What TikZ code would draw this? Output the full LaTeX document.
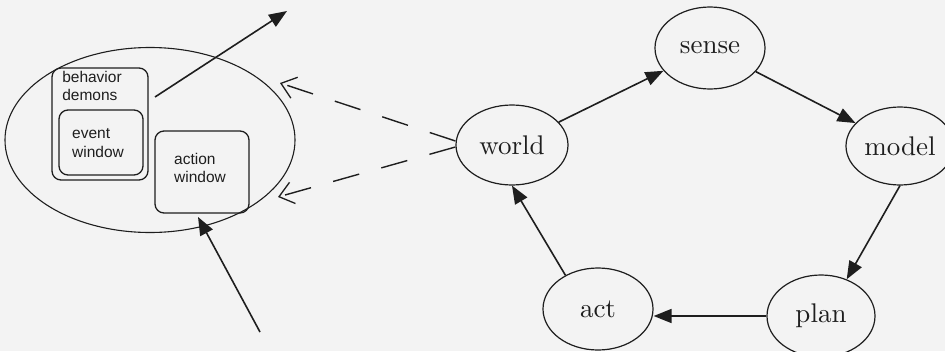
\documentclass[tikz,border=0pt]{standalone}
\usepackage{fontspec}
\newfontfamily\boxfont{Liberation Sans}
\newfontfamily\stagefont{lmroman10-regular}[Extension=.otf]
\usetikzlibrary{arrows.meta,shapes.geometric}
\definecolor{bgcol}{RGB}{243,243,243}
\definecolor{inkcol}{RGB}{30,30,30}
\begin{document}
\begin{tikzpicture}[x=1pt,y=-1pt,
  stage/.style={ellipse,draw=inkcol,line width=1.2pt,inner sep=0pt,font=\stagefont\fontsize{27}{29}\selectfont,text=inkcol},
  winbox/.style={draw=inkcol,line width=1.3pt,rounded corners=9pt,inner sep=0pt},
  boxtext/.style={font=\boxfont\fontsize{15.5}{18.5}\selectfont,align=left,inner sep=0pt,text=inkcol},
  flow/.style={draw=inkcol,line width=1.6pt,-{Triangle[length=18pt,width=14pt]}},
  sensed/.style={draw=inkcol,line width=1.4pt,dash pattern=on 27pt off 23pt,-{Straight Barb[length=14pt,width=22pt,line width=1.3pt]}}]
\path[fill=bgcol] (0,0) rectangle (945,351);
\useasboundingbox (0,0) rectangle (945,351);
\begin{scope}
\clip (0,0) rectangle (945,351);
% agent
\node[ellipse,draw=inkcol,line width=1.1pt,minimum width=290pt,minimum height=185pt,inner sep=0pt] (agent) at (150,140) {};
\node[winbox,minimum width=96pt,minimum height=112pt] (demons) at (100,124) {};
\node[winbox,minimum width=84pt,minimum height=65pt] (event) at (101,142.5) {};
\node[winbox,minimum width=94pt,minimum height=82pt] (action) at (202,172) {};
\node[boxtext] (demonstext) at (92,86) {behavior\\demons};
\node[boxtext] (eventtext) at (98,143) {event\\window};
\node[boxtext] (actiontext) at (200,168) {action\\window};
% cycle
\node[stage,minimum width=112pt,minimum height=80pt] (world) at (512,145) {world};
\node[stage,minimum width=110pt,minimum height=82pt] (sense) at (710,48) {sense};
\node[stage,minimum width=108pt,minimum height=78pt] (model) at (900,146) {model};
\node[stage,minimum width=108pt,minimum height=82pt] (plan) at (821,316) {plan};
\node[stage,minimum width=110pt,minimum height=82pt] (act) at (598,309) {act};
\draw[flow] (world) -- (sense);
\draw[flow] (sense) -- (model);
\draw[flow] (model.south) -- (plan.55);
\draw[flow] (plan.west) -- (act.east |- plan.west);
\draw[flow] (act.134) -- (world.south);
% free ends
\coordinate (outstart) at (155,97);
\coordinate (outend) at (287,11);
\coordinate (instart) at (260,332);
\coordinate (inend) at (198,217);
\coordinate (tipup) at (280,83);
\coordinate (tipdown) at (278,197);
\draw[flow] (outstart) -- (outend);
\draw[flow] (instart) -- (inend);
\draw[sensed] ([yshift=4pt]world.west) -- (tipup);
\draw[sensed] ([yshift=-2pt]world.west) -- (tipdown);
\end{scope}
\end{tikzpicture}
\end{document}
